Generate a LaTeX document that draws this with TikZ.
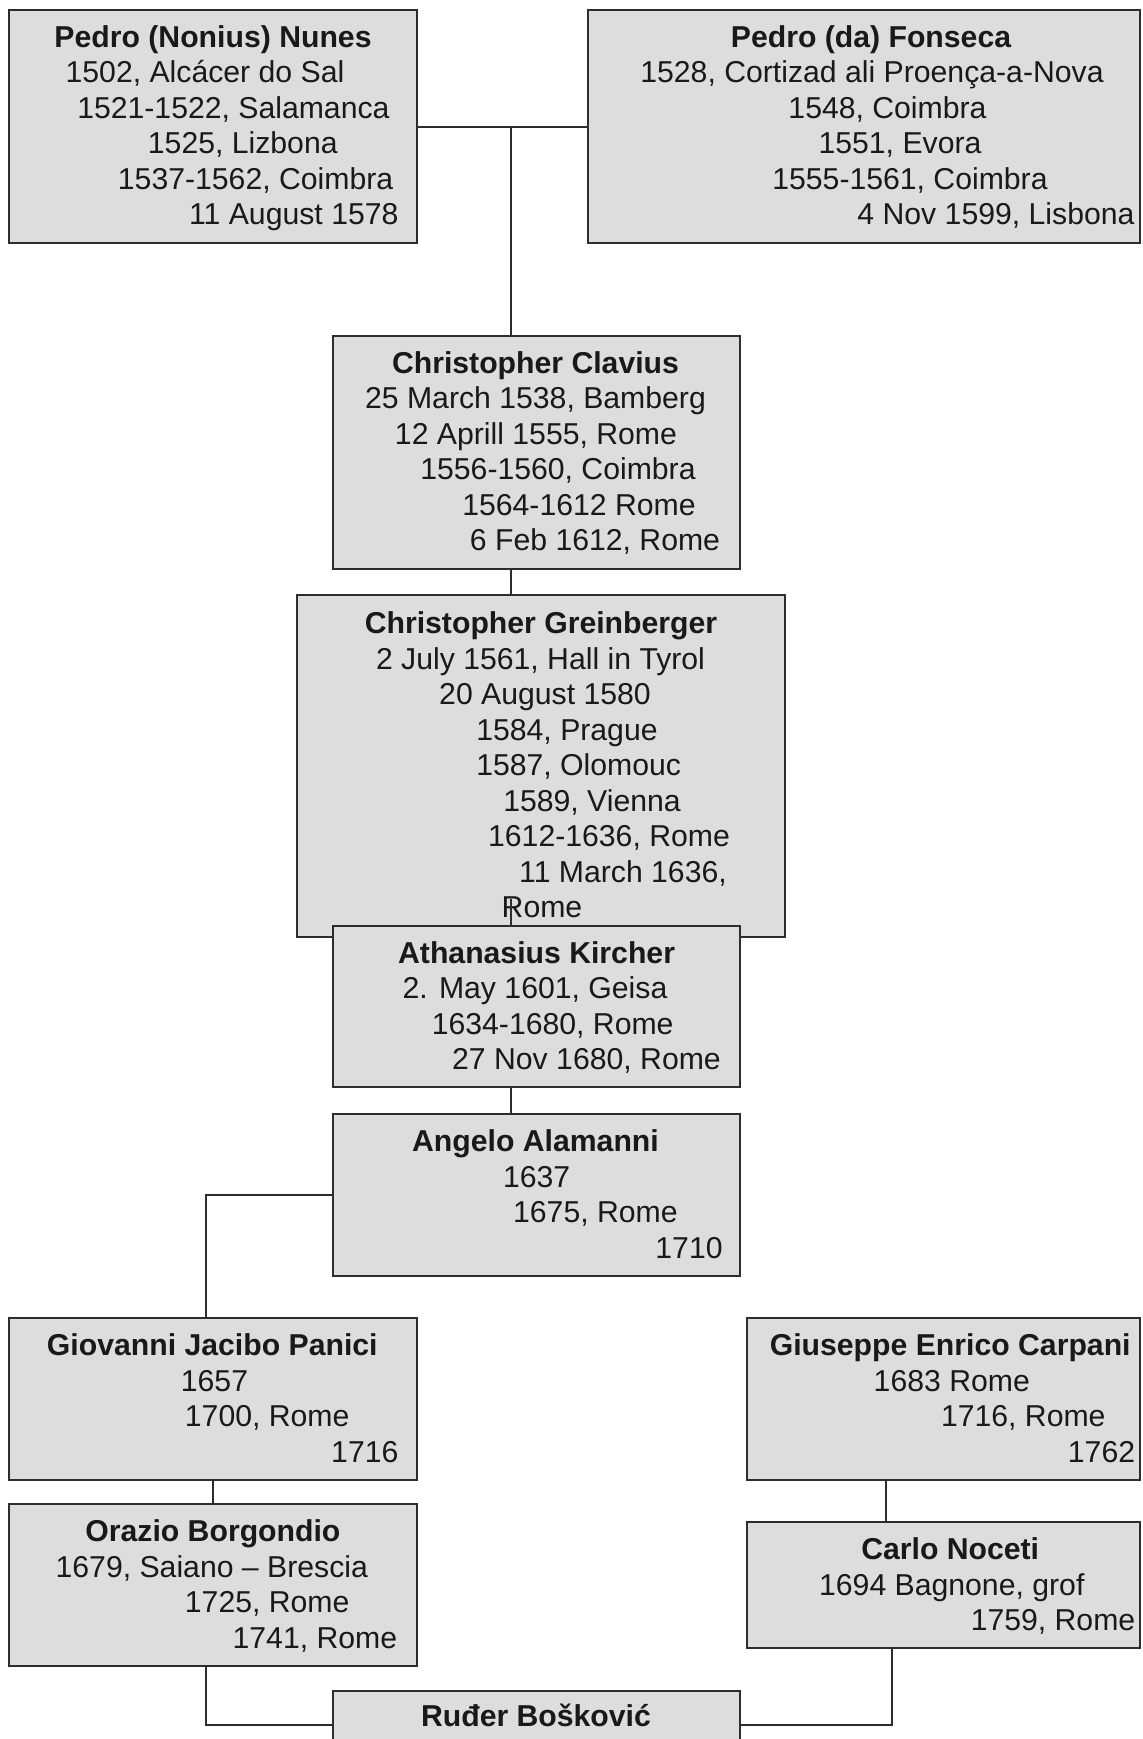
\documentclass[tikz,border=0pt]{standalone}
\usepackage{fontspec}
\setmainfont{Liberation Sans}
\usetikzlibrary{fit}
\definecolor{boxfill}{RGB}{221,221,221}
\definecolor{boxline}{RGB}{45,45,45}
\definecolor{ink}{RGB}{25,25,25}
\begin{document}
\begin{tikzpicture}[x=0.5pt,y=-0.5pt,
  box/.style={draw=boxline, fill=boxfill, line width=1.2pt, inner sep=0pt},
  link/.style={draw=boxline, line width=1pt},
  txt/.style={anchor=base, inner sep=0pt, font=\fontsize{15.1}{18}\selectfont, text=ink},
  head/.style={txt, font=\fontsize{15.1}{18}\selectfont\bfseries}]
\useasboundingbox (0,0) rectangle (1142,1739);
\clip (0,0) rectangle (1142,1739);
\fill[white] (0,0) rectangle (1142,1739);

% boxes
\node[box, fit={(9,10) (417,243)}] (nunes) {};
\node[box, fit={(588,10) (1140,243)}] (fonseca) {};
\node[box, fit={(333,336) (740,569)}] (clavius) {};
\node[box, fit={(297,595) (785,937)}] (grein) {};
\node[box, fit={(333,926) (740,1087)}] (kircher) {};
\node[box, fit={(333,1114) (740,1276)}] (alamanni) {};
\node[box, fit={(9,1318) (417,1480)}] (panici) {};
\node[box, fit={(9,1504) (417,1666)}] (borgondio) {};
\node[box, fit={(747,1318) (1140,1480)}] (carpani) {};
\node[box, fit={(747,1522) (1140,1648)}] (noceti) {};
\node[box, fit={(333,1691) (740,1852)}] (boskovic) {};

% Nunes
\node[head] (n1) at (213,47.4) {Pedro (Nonius) Nunes};
\node[txt] (n2) at (205,82.9) {1502, Alcácer do Sal};
\node[txt] (n3) at (233.4,118.4) {1521-1522, Salamanca};
\node[txt] (n4) at (242.8,153.9) {1525, Lizbona};
\node[txt] (n5) at (255.6,189.4) {1537-1562, Coimbra};
\node[txt] (n6) at (293.8,224.9) {11 August 1578};
% Fonseca
\node[head] (f1) at (871,47.4) {Pedro (da) Fonseca};
\node[txt] (f2) at (872,82.9) {1528, Cortizad ali Proença-a-Nova};
\node[txt] (f3) at (887.5,118.4) {1548, Coimbra};
\node[txt] (f4) at (900,153.9) {1551, Evora};
\node[txt] (f5) at (910,189.4) {1555-1561, Coimbra};
\node[txt] (f6) at (996,224.9) {4 Nov 1599, Lisbona};
% Clavius
\node[head] (c1) at (535.5,373.3) {Christopher Clavius};
\node[txt] (c2) at (535.5,408.8) {25 March 1538, Bamberg};
\node[txt] (c3) at (536,444.3) {12 Aprill 1555, Rome};
\node[txt] (c4) at (558,479.8) {1556-1560, Coimbra};
\node[txt] (c5) at (579,515.3) {1564-1612 Rome};
\node[txt] (c6) at (595,550.8) {6 Feb 1612, Rome};
% Greinberger
\node[head] (g1) at (541,633.9) {Christopher Greinberger};
\node[txt] (g2) at (540.5,669.4) {2 July 1561, Hall in Tyrol};
\node[txt] (g3) at (545,704.9) {20 August 1580};
\node[txt] (g4) at (567,740.4) {1584, Prague};
\node[txt] (g5) at (578.7,775.9) {1587, Olomouc};
\node[txt] (g6) at (592,811.4) {1589, Vienna};
\node[txt] (g7) at (609,846.9) {1612-1636, Rome};
\node[txt] (g8) at (623,882.4) {11 March 1636,};
\node[txt] (g9) at (542,917.9) {Rome};
% Kircher
\node[head] (k1) at (536.6,963.2) {Athanasius Kircher};
\node[txt] (k2) at (535,998.7) {2. May 1601, Geisa};
\node[txt] (k3) at (552.7,1034.2) {1634-1680, Rome};
\node[txt] (k4) at (586.5,1069.7) {27 Nov 1680, Rome};
% Alamanni
\node[head] (a1) at (535.5,1151.7) {Angelo Alamanni};
\node[txt] (a2) at (536.6,1187.2) {1637};
\node[txt] (a3) at (595.4,1222.7) {1675, Rome};
\node[txt] (a4) at (689,1258.2) {1710};
% Panici
\node[head] (p1) at (212.3,1355.6) {Giovanni Jacibo Panici};
\node[txt] (p2) at (214.5,1391.1) {1657};
\node[txt] (p3) at (267.2,1426.6) {1700, Rome};
\node[txt] (p4) at (364.8,1462.1) {1716};
% Borgondio
\node[head] (b1) at (212.9,1541.9) {Orazio Borgondio};
\node[txt] (b2) at (211.8,1577.4) {1679, Saiano – Brescia};
\node[txt] (b3) at (267.2,1612.9) {1725, Rome};
\node[txt] (b4) at (314.9,1648.4) {1741, Rome};
% Carpani
\node[head] (e1) at (950.2,1355.6) {Giuseppe Enrico Carpani};
\node[txt] (e2) at (951.8,1391.1) {1683 Rome};
\node[txt] (e3) at (1023.3,1426.6) {1716, Rome};
\node[txt] (e4) at (1101.5,1462.1) {1762};
% Noceti
\node[head] (o1) at (950.2,1559.7) {Carlo Noceti};
\node[txt] (o2) at (951.8,1595.2) {1694 Bagnone, grof};
\node[txt] (o3) at (1053,1630.7) {1759, Rome};
% Boskovic
\node[head] (r1) at (536,1726) {Ruđer Bošković};

% connectors
\coordinate (jc) at (511,127.5);
\coordinate (jl) at (206,1725);
\coordinate (jr) at (886,1725);
\coordinate (jn) at (892,1725);
\coordinate (gk) at (511,899);
\draw[link] (nunes.east |- jc) -- (fonseca.west |- jc);
\draw[link] (jc) -- (jc |- clavius.north);
\draw[link] (jc |- clavius.south) -- (jc |- grein.north);
\draw[link] (gk) -- (gk |- kircher.north);
\draw[link] (jc |- kircher.south) -- (jc |- alamanni.north);
\draw[link] (alamanni.west) -| (jl |- panici.north);
\draw[link] (panici.south) -- (borgondio.north);
\draw[link] (jl |- borgondio.south) -- (jl) -- (boskovic.west |- jl);
\draw[link] (jr |- carpani.south) -- (jr |- noceti.north);
\draw[link] (jn |- noceti.south) -- (jn) -- (boskovic.east |- jn);
\end{tikzpicture}
\end{document}
